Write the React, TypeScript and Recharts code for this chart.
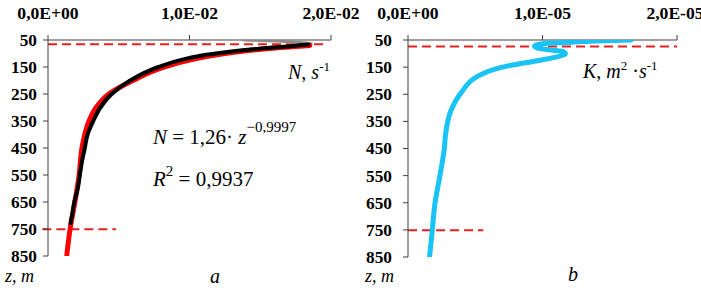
import React from 'react';
import { ScatterChart, Scatter, XAxis, YAxis, ReferenceLine } from 'recharts';

// depth ticks (m)
const depthTicks = [50, 150, 250, 350, 450, 550, 650, 750, 850];

// panel a: buoyancy frequency N
const nTicks = [0, 0.01, 0.02];
const nTickLabels = ['0,0E+00', '1,0E-02', '2,0E-02'];
const nSurface = [
  { x: 0.0138, y: 50 },
  { x: 0.0160, y: 54 },
  { x: 0.0178, y: 59 },
  { x: 0.0186, y: 64 },
];
const nObserved = [
  { x: 0.0184, y: 67 },
  { x: 0.0170, y: 74 },
  { x: 0.0155, y: 80 },
  { x: 0.0131, y: 92 },
  { x: 0.0112, y: 105 },
  { x: 0.0097, y: 120 },
  { x: 0.0078, y: 150 },
  { x: 0.0058, y: 200 },
  { x: 0.0045, y: 250 },
  { x: 0.0037, y: 300 },
  { x: 0.0032, y: 350 },
  { x: 0.0028, y: 400 },
  { x: 0.0026, y: 450 },
  { x: 0.0024, y: 500 },
  { x: 0.00225, y: 550 },
  { x: 0.0021, y: 600 },
  { x: 0.00186, y: 650 },
  { x: 0.0017, y: 700 },
  { x: 0.0016, y: 728 },
];
const nFit = [
  { x: 0.0185, y: 70 },
  { x: 0.0160, y: 80 },
  { x: 0.0140, y: 90 },
  { x: 0.0125, y: 100 },
  { x: 0.0104, y: 120 },
  { x: 0.0082, y: 150 },
  { x: 0.0060, y: 200 },
  { x: 0.0043, y: 250 },
  { x: 0.0034, y: 300 },
  { x: 0.0029, y: 350 },
  { x: 0.0026, y: 400 },
  { x: 0.0024, y: 450 },
  { x: 0.0022, y: 550 },
  { x: 0.0019, y: 650 },
  { x: 0.00156, y: 750 },
  { x: 0.00133, y: 846 },
];

// panel b: turbulent diffusivity K
const kTicks = [0, 0.00001, 0.00002];
const kTickLabels = ['0,0E+00', '1,0E-05', '2,0E-05'];
const kProfile = [
  { x: 0.0000166, y: 50 },
  { x: 0.0000140, y: 54 },
  { x: 0.0000118, y: 59 },
  { x: 0.0000100, y: 64 },
  { x: 0.0000094, y: 72 },
  { x: 0.0000098, y: 82 },
  { x: 0.0000115, y: 92 },
  { x: 0.0000117, y: 101 },
  { x: 0.0000110, y: 113 },
  { x: 0.0000093, y: 129 },
  { x: 0.0000076, y: 144 },
  { x: 0.0000064, y: 158 },
  { x: 0.0000051, y: 186 },
  { x: 0.0000040, y: 241 },
  { x: 0.0000032, y: 309 },
  { x: 0.0000028, y: 395 },
  { x: 0.0000027, y: 450 },
  { x: 0.0000024, y: 543 },
  { x: 0.0000020, y: 654 },
  { x: 0.0000018, y: 754 },
  { x: 0.0000016, y: 850 },
];

const SERIF = "'Liberation Serif', 'Times New Roman', serif";
const AXIS_COLOR = '#404040';
const DASH_RED = '#E8201E';

const NoDot = () => <g />;

const makeYTick = (sx: number) => (props: any) => {
  const { x, y, payload } = props;
  return (
    <text
      x={x}
      y={y}
      dy={6}
      textAnchor="end"
      fontFamily={SERIF}
      fontWeight="bold"
      fontSize={16}
      fill="#000"
      transform={`translate(${x} ${y}) scale(${sx} 1) translate(${-x} ${-y})`}
    >
      {payload.value}
    </text>
  );
};

const makeXTick = (labels: string[], ticks: number[]) => (props: any) => {
  const { x, y, payload } = props;
  const i = ticks.indexOf(payload.value);
  return (
    <text
      x={x}
      y={y}
      dy={-4}
      textAnchor="middle"
      fontFamily={SERIF}
      fontWeight="bold"
      fontSize={16}
      fill="#000"
      transform={`translate(${x} ${y}) scale(1.1 1) translate(${-x} ${-y})`}
    >
      {i >= 0 ? labels[i] : ''}
    </text>
  );
};

const lineStyle = (stroke: string, w: number) => ({
  stroke,
  strokeWidth: w,
  strokeLinejoin: 'round' as const,
  strokeLinecap: 'round' as const,
  fill: 'none',
});

export default function App() {
  return (
    <div style={{ position: 'absolute', left: 0, top: 0, width: 701, height: 292, background: '#fff' }}>
      <div style={{ position: 'absolute', left: 0, top: 0 }}>
        <ScatterChart width={400} height={292} margin={{ top: 10, right: 69, bottom: 36, left: 8 }}>
          <XAxis
            type="number"
            dataKey="x"
            orientation="top"
            domain={[0, 0.02]}
            ticks={nTicks}
            height={30}
            tickSize={5}
            tickMargin={12}
            tick={makeXTick(nTickLabels, nTicks)}
            stroke={AXIS_COLOR}
            allowDataOverflow
          />
          <YAxis
            type="number"
            dataKey="y"
            domain={[50, 850]}
            reversed
            ticks={depthTicks}
            width={40}
            tickSize={5}
            tickMargin={6}
            tick={makeYTick(1.08)}
            stroke={AXIS_COLOR}
            allowDataOverflow
          />
          <Scatter data={nSurface} shape={NoDot} lineJointType="monotoneY" line={lineStyle('#8c8c8c', 3)} isAnimationActive={false} />
          <Scatter data={nFit} shape={NoDot} lineJointType="monotoneY" line={lineStyle('#ff0000', 5)} isAnimationActive={false} />
          <Scatter data={nObserved} shape={NoDot} lineJointType="monotoneY" line={lineStyle('#000000', 4)} isAnimationActive={false} />
          <ReferenceLine segment={[{ x: 0, y: 66 }, { x: 0.0196, y: 66 }]} stroke={DASH_RED} strokeWidth={2} strokeDasharray="9 5" ifOverflow="visible" />
          <ReferenceLine segment={[{ x: -0.0004, y: 751 }, { x: 0.0048, y: 751 }]} stroke={DASH_RED} strokeWidth={2} strokeDasharray="9 5" ifOverflow="visible" />
        </ScatterChart>
      </div>
      <div style={{ position: 'absolute', left: 350, top: 0 }}>
        <ScatterChart width={351} height={292} margin={{ top: 10, right: 24, bottom: 35, left: 18 }}>
          <XAxis
            type="number"
            dataKey="x"
            orientation="top"
            domain={[0, 0.00002]}
            ticks={kTicks}
            height={30}
            tickSize={5}
            tickMargin={12}
            tick={makeXTick(kTickLabels, kTicks)}
            stroke={AXIS_COLOR}
            allowDataOverflow
          />
          <YAxis
            type="number"
            dataKey="y"
            domain={[50, 850]}
            reversed
            ticks={depthTicks}
            width={40}
            tickSize={5}
            tickMargin={11}
            tick={makeYTick(1.08)}
            stroke={AXIS_COLOR}
            allowDataOverflow
          />
          <Scatter data={kProfile} shape={NoDot} lineJointType="monotoneY" line={lineStyle('#19c3f5', 5)} isAnimationActive={false} />
          <ReferenceLine segment={[{ x: 0, y: 74 }, { x: 0.00002, y: 74 }]} stroke={DASH_RED} strokeWidth={2} strokeDasharray="9 5" ifOverflow="visible" />
          <ReferenceLine segment={[{ x: 0, y: 751 }, { x: 0.0000056, y: 751 }]} stroke={DASH_RED} strokeWidth={2} strokeDasharray="9 5" ifOverflow="visible" />
        </ScatterChart>
      </div>
      <svg width={701} height={292} style={{ position: 'absolute', left: 0, top: 0, pointerEvents: 'none' }}>
        <g fill="#000" fontFamily={SERIF}>
          <text x={288} y={79} fontSize={20}>
            <tspan fontStyle="italic">N</tspan>, <tspan fontStyle="italic">s</tspan>
            <tspan dy={-8} fontSize={13}>-1</tspan>
          </text>
          <text x={583} y={78} fontSize={20}>
            <tspan fontStyle="italic">K</tspan>, <tspan fontStyle="italic">m</tspan>
            <tspan dy={-8} fontSize={13}>2</tspan>
            <tspan dy={8}> ·</tspan>
            <tspan fontStyle="italic">s</tspan>
            <tspan dy={-8} fontSize={13}>-1</tspan>
          </text>
          <text x={153} y={144} fontSize={21}>
            <tspan fontStyle="italic">N</tspan> = 1,26· <tspan fontStyle="italic">z</tspan>
            <tspan dy={-12} fontSize={15}>−0,9997</tspan>
          </text>
          <text x={153} y={186} fontSize={21}>
            <tspan fontStyle="italic">R</tspan>
            <tspan dy={-10} fontSize={15}>2</tspan>
            <tspan dy={10}> = 0,9937</tspan>
          </text>
          <text x={5} y={282} fontSize={18} fontStyle="italic">z, m</text>
          <text x={365} y={282} fontSize={18} fontStyle="italic">z, m</text>
          <text x={210} y={283} fontSize={20} fontStyle="italic">a</text>
          <text x={568} y={281} fontSize={20} fontStyle="italic">b</text>
        </g>
      </svg>
    </div>
  );
}
